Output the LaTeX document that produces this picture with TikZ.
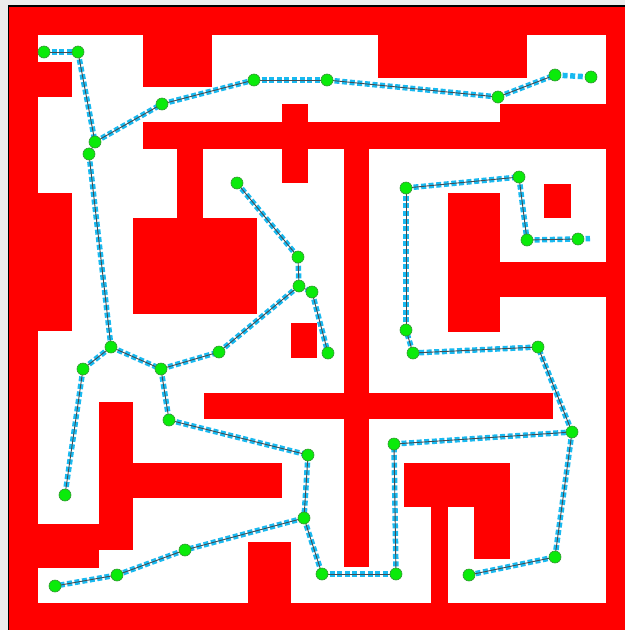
\documentclass[tikz,border=0pt]{standalone}
\pgfdeclarelayer{bg}
\pgfdeclarelayer{blue}
\pgfdeclarelayer{edges}
\pgfsetlayers{bg,blue,edges,main}
\definecolor{framegray}{RGB}{236,236,236}
\definecolor{wallred}{RGB}{255,0,0}
\definecolor{pathblue}{RGB}{25,185,240}
\definecolor{treeline}{RGB}{70,75,80}
\definecolor{nodegreen}{RGB}{10,235,10}
\definecolor{nodeedge}{RGB}{50,150,50}
\tikzset{
  wall/.style={fill=wallred},
  free/.style={fill=white},
  vert/.style={circle, fill=nodegreen, draw=nodeedge, line width=0.6pt, minimum size=12pt, inner sep=0pt},
  blueseg/.style={draw=pathblue, line width=5.5pt, dash pattern=on 5pt off 2.6pt},
  treeedge/.style={draw=treeline, line width=0.9pt},
}
\begin{document}
\begin{tikzpicture}[x=1pt,y=-1pt]
\useasboundingbox (0,0) rectangle (625,630);
\begin{pgfonlayer}{bg}
\fill[framegray] (0,0) rectangle (625,630);
\fill[black] (7.5,5) rectangle (625,630);
\fill[wall] (9,6.7) rectangle (625,630);
\fill[free] (38,35) rectangle (606,603);
% obstacles
\fill[wall] (38,62) rectangle (72,97);
\fill[wall] (143,35) rectangle (212,87);
\fill[wall] (378,35) rectangle (527,78);
\fill[wall] (500,104) rectangle (606,122);
\fill[wall] (143,122) rectangle (606,149);
\fill[wall] (282,104) rectangle (308,183);
\fill[wall] (177,149) rectangle (203,218);
\fill[wall] (133,218) rectangle (257,314);
\fill[wall] (344,149) rectangle (369,567);
\fill[wall] (204,393) rectangle (553,419);
\fill[wall] (291,323) rectangle (317,358);
\fill[wall] (448,193) rectangle (500,332);
\fill[wall] (500,262) rectangle (606,297);
\fill[wall] (544,184) rectangle (571,218);
\fill[wall] (38,193) rectangle (72,331);
\fill[wall] (99,402) rectangle (133,550);
\fill[wall] (133,463) rectangle (282,498);
\fill[wall] (38,524) rectangle (133,550);
\fill[wall] (38,550) rectangle (99,568);
\fill[wall] (248,542) rectangle (291,603);
\fill[wall] (404,463) rectangle (510,507);
\fill[wall] (431,507) rectangle (448,603);
\fill[wall] (474,507) rectangle (510,559);
\end{pgfonlayer}
% vertices
\node[vert] (n1) at (44,52) {};
\node[vert] (n2) at (78,52) {};
\node[vert] (n3) at (95,142) {};
\node[vert] (n4) at (89,154) {};
\node[vert] (n5) at (162,104) {};
\node[vert] (n6) at (254,80) {};
\node[vert] (n7) at (327,80) {};
\node[vert] (n8) at (498,97) {};
\node[vert] (n9) at (555,75) {};
\node[vert] (n10) at (591,77) {};
\node[vert] (n11) at (111,347) {};
\node[vert] (n12) at (83,369) {};
\node[vert] (n13) at (161,369) {};
\node[vert] (n14) at (219,352) {};
\node[vert] (n15) at (169,420) {};
\node[vert] (n16) at (308,455) {};
\node[vert] (n17) at (304,518) {};
\node[vert] (n18) at (185,550) {};
\node[vert] (n19) at (117,575) {};
\node[vert] (n20) at (55,586) {};
\node[vert] (n21) at (322,574) {};
\node[vert] (n22) at (65,495) {};
\node[vert] (n23) at (299,286) {};
\node[vert] (n24) at (298,257) {};
\node[vert] (n25) at (237,183) {};
\node[vert] (n26) at (312,292) {};
\node[vert] (n27) at (328,353) {};
\node[vert] (n28) at (396,574) {};
\node[vert] (n29) at (394,444) {};
\node[vert] (n30) at (572,432) {};
\node[vert] (n31) at (538,347) {};
\node[vert] (n32) at (413,353) {};
\node[vert] (n33) at (406,330) {};
\node[vert] (n34) at (406,188) {};
\node[vert] (n35) at (519,177) {};
\node[vert] (n36) at (527,240) {};
\node[vert] (n37) at (578,239) {};
\node[vert] (n38) at (555,557) {};
\node[vert] (n39) at (469,575) {};
\coordinate (stub) at (590,238.5);
\foreach \a/\b in {n1/n2, n2/n3, n3/n4, n3/n5, n5/n6, n6/n7, n7/n8, n8/n9,
  n4/n11, n11/n12, n12/n22, n11/n13, n13/n14, n14/n23, n23/n24, n24/n25,
  n23/n26, n26/n27, n13/n15, n15/n16, n16/n17, n17/n18, n18/n19, n19/n20,
  n17/n21, n21/n28, n28/n29, n29/n30, n30/n31, n31/n32, n32/n33, n33/n34,
  n34/n35, n35/n36, n36/n37, n30/n38, n38/n39}
{
  \begin{pgfonlayer}{blue}
  \draw[blueseg] (\a.center) -- (\b.center);
  \end{pgfonlayer}
  \begin{pgfonlayer}{edges}
  \draw[treeedge] (\a.center) -- (\b.center);
  \end{pgfonlayer}
}
\begin{pgfonlayer}{blue}
\draw[blueseg] (n9.center) -- (n10.center);
\draw[blueseg] (n37.center) -- (stub);
\end{pgfonlayer}
\end{tikzpicture}
\end{document}
